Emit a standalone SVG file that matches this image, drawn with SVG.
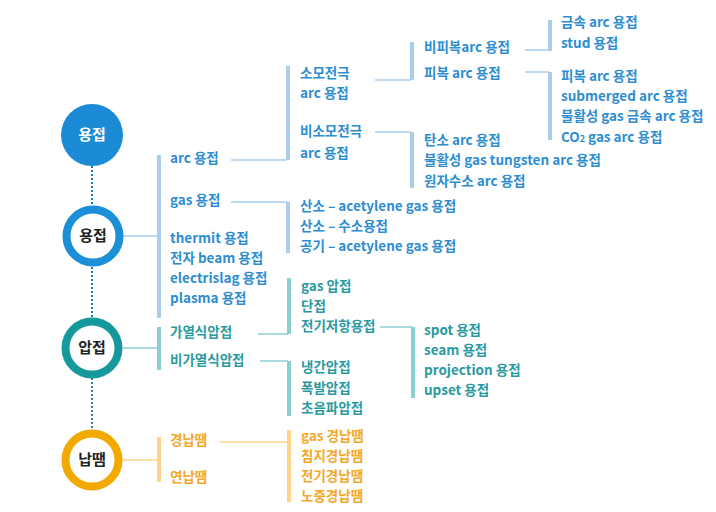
<svg xmlns="http://www.w3.org/2000/svg" width="716" height="512" viewBox="0 0 716 512">
<style>
text{font-family:"Noto Sans CJK KR","Noto Sans",sans-serif;font-size:13.5px;font-weight:700}
.b{fill:#2d8dd2}.t{fill:#2a9a9f}.o{fill:#f3a82a}
.c{font-size:15px;font-weight:700;fill:#222;text-anchor:middle}
.bb{stroke:#a9cdeb;stroke-width:4;fill:none}
.bl{stroke:#a9cdeb;stroke-width:1.5;fill:none}
.tb{stroke:#8ccfd1;stroke-width:4;fill:none}
.tl{stroke:#8ccfd1;stroke-width:1.5;fill:none}
.ob{stroke:#fcd48a;stroke-width:4;fill:none}
.ol{stroke:#fcd48a;stroke-width:1.5;fill:none}
.dot{stroke-width:2;stroke-dasharray:2 2;fill:none}
</style>
<rect width="716" height="512" fill="#fff"/>
<g id="connectors">
<line class="dot" x1="92" y1="104" x2="92" y2="108" stroke="#1b7fc4"/>
<line class="dot" x1="92" y1="166" x2="92" y2="206" stroke="#1b7fc4"/>
<line class="dot" x1="92" y1="267" x2="92" y2="318" stroke="#1b7fc4"/>
<line class="dot" x1="92" y1="378" x2="92" y2="430" stroke="#2a85a8"/>
<line class="bl" x1="123" y1="236" x2="158" y2="236"/>
<line class="bb" x1="159" y1="155" x2="159" y2="318"/>
<line class="tl" x1="123" y1="348" x2="158" y2="348"/>
<line class="tb" x1="159" y1="327" x2="159" y2="370"/>
<line class="ol" x1="123" y1="460" x2="158" y2="460"/>
<line class="ob" x1="159" y1="437" x2="159" y2="482"/>
<line class="bl" x1="231" y1="160" x2="287" y2="160"/>
<line class="bb" x1="288" y1="66" x2="288" y2="160"/>
<line class="bl" x1="375" y1="80" x2="411" y2="80"/>
<line class="bb" x1="412" y1="42" x2="412" y2="80"/>
<line class="bl" x1="525" y1="50" x2="549" y2="50"/>
<line class="bb" x1="550" y1="20" x2="550" y2="51"/>
<line class="bl" x1="525" y1="72" x2="549" y2="72"/>
<line class="bb" x1="550" y1="72" x2="550" y2="140"/>
<line class="bl" x1="375" y1="132" x2="411" y2="132"/>
<line class="bb" x1="412" y1="132" x2="412" y2="188"/>
<line class="bl" x1="231" y1="202" x2="287" y2="202"/>
<line class="bb" x1="288" y1="202" x2="288" y2="253"/>
<line class="tl" x1="258" y1="334" x2="288" y2="334"/>
<line class="tb" x1="289" y1="278" x2="289" y2="334"/>
<line class="tl" x1="380" y1="327" x2="412" y2="327"/>
<line class="tb" x1="413" y1="327" x2="413" y2="398"/>
<line class="tl" x1="260" y1="361" x2="288" y2="361"/>
<line class="tb" x1="289" y1="361" x2="289" y2="416"/>
<line class="ol" x1="220" y1="442" x2="288" y2="442"/>
<line class="ob" x1="289" y1="430" x2="289" y2="502"/>
</g>
<g id="n-weld-top"><circle cx="92" cy="135" r="31" fill="#1b8bd6"/><text class="c" x="92" y="140" style="fill:#fff">용접</text></g>
<g id="n-weld"><circle cx="93" cy="236" r="26.5" fill="#fff" stroke="#1b8fd8" stroke-width="8"/><text class="c" x="93" y="241">용접</text></g>
<g id="n-press"><circle cx="92" cy="348" r="26.5" fill="#fff" stroke="#16999c" stroke-width="8"/><text class="c" x="92" y="353">압접</text></g>
<g id="n-braze"><circle cx="92" cy="460" r="26.5" fill="#fff" stroke="#f2a900" stroke-width="8"/><text class="c" x="92" y="465">납땜</text></g>
<g id="n-l1-weld" class="b">
<text x="170" y="163">arc 용접</text>
<text x="170" y="205">gas 용접</text>
<text x="170" y="243">thermit 용접</text>
<text x="170" y="263">전자 beam 용접</text>
<text x="170" y="283">electrislag 용접</text>
<text x="170" y="303">plasma 용접</text>
</g>
<g id="n-arc" class="b">
<text x="300" y="78">소모전극</text>
<text x="300" y="98">arc 용접</text>
<text x="300" y="136">비소모전극</text>
<text x="300" y="158">arc 용접</text>
</g>
<g id="n-consumable" class="b">
<text x="424" y="52">비피복arc 용접</text>
<text x="424" y="78">피복 arc 용접</text>
</g>
<g id="n-bare" class="b">
<text x="561" y="27">금속 arc 용접</text>
<text x="561" y="48">stud 용접</text>
</g>
<g id="n-covered" class="b">
<text x="561" y="81">피복 arc 용접</text>
<text x="561" y="101">submerged arc 용접</text>
<text x="561" y="121">불활성 gas 금속 arc 용접</text>
<text x="561" y="142">CO<tspan font-size="9">2</tspan> gas arc 용접</text>
</g>
<g id="n-nonconsumable" class="b">
<text x="424" y="145">탄소 arc 용접</text>
<text x="424" y="165">불활성 gas tungsten arc 용접</text>
<text x="424" y="186">원자수소 arc 용접</text>
</g>
<g id="n-gas" class="b">
<text x="300" y="211">산소 – acetylene gas 용접</text>
<text x="300" y="231">산소 – 수소용접</text>
<text x="300" y="251">공기 – acetylene gas 용접</text>
</g>
<g id="n-l1-press" class="t">
<text x="170" y="337">가열식압접</text>
<text x="170" y="365">비가열식압접</text>
</g>
<g id="n-heated" class="t">
<text x="301" y="291">gas 압접</text>
<text x="301" y="311">단접</text>
<text x="301" y="331">전기저항용접</text>
</g>
<g id="n-resist" class="t">
<text x="424" y="335">spot 용접</text>
<text x="424" y="355">seam 용접</text>
<text x="424" y="375">projection 용접</text>
<text x="424" y="395">upset 용접</text>
</g>
<g id="n-cold" class="t">
<text x="301" y="372">냉간압접</text>
<text x="301" y="393">폭발압접</text>
<text x="301" y="413">초음파압접</text>
</g>
<g id="n-l1-braze" class="o">
<text x="170" y="445">경납땜</text>
<text x="170" y="482">연납땜</text>
</g>
<g id="n-hard" class="o">
<text x="301" y="441">gas 경납땜</text>
<text x="301" y="461">침지경납땜</text>
<text x="301" y="481">전기경납땜</text>
<text x="301" y="501">노중경납땜</text>
</g>
</svg>
